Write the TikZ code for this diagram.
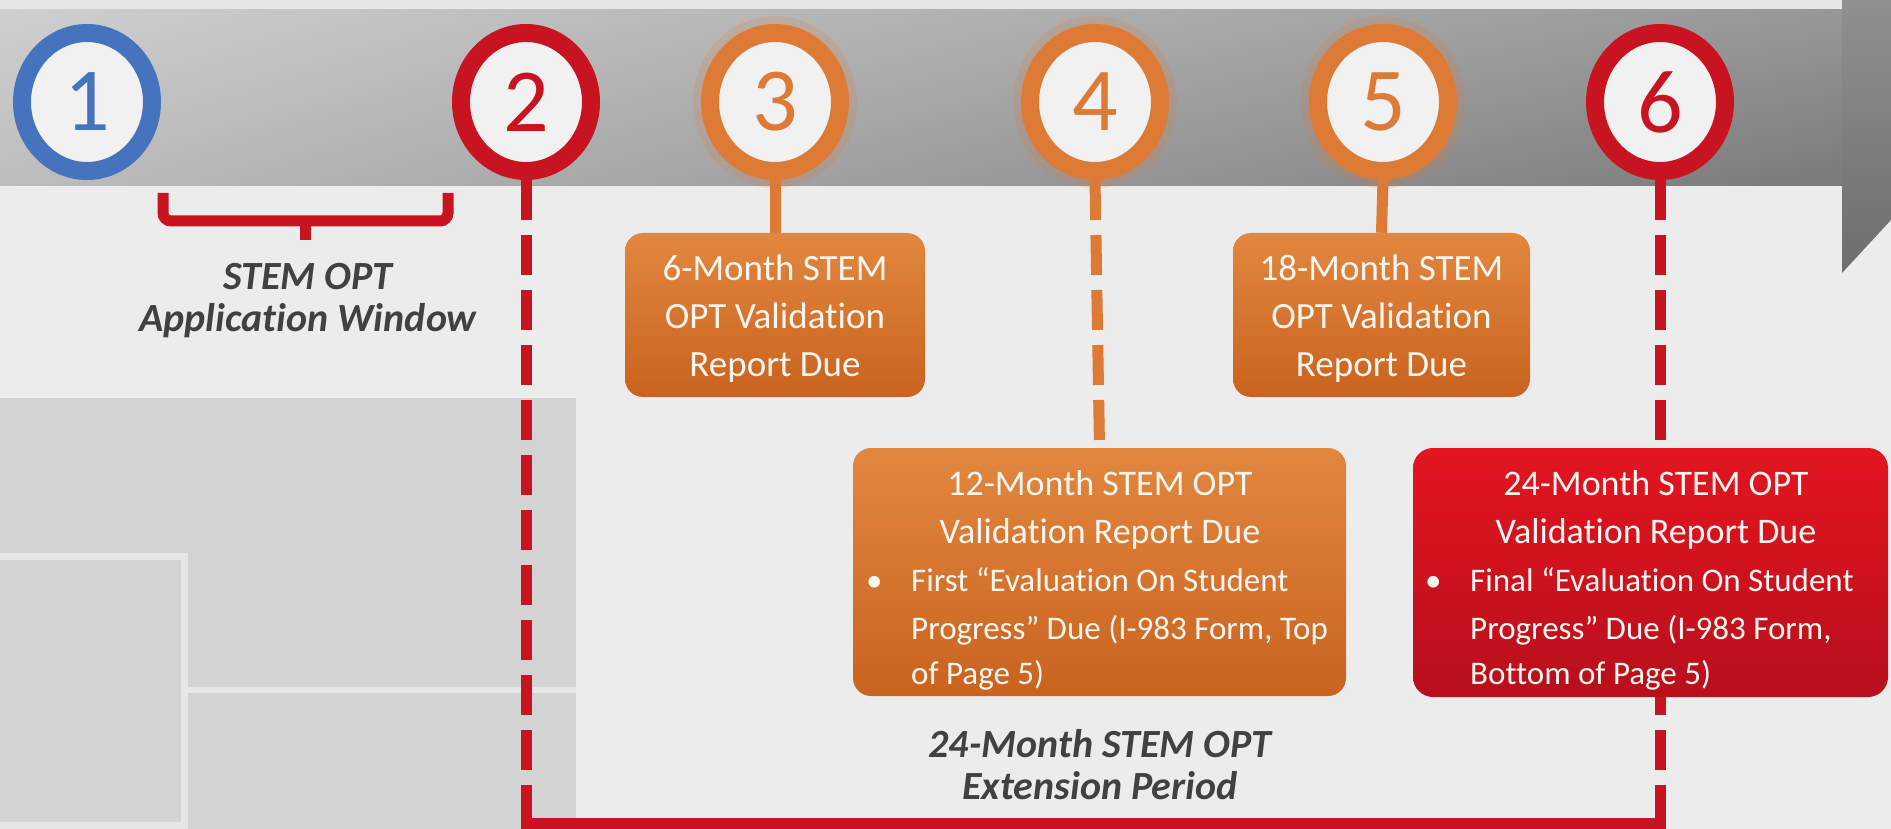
\documentclass[tikz,border=0pt]{standalone}
\usepackage{fontspec}
\setmainfont{Carlito}[Ligatures=CommonOff]
\usetikzlibrary{shapes.geometric,shadings}
\definecolor{cblue}{HTML}{4573BE}
\definecolor{cred}{HTML}{C81420}
\definecolor{corange}{HTML}{DD7A36}
\definecolor{oboxtop}{HTML}{E2873F}
\definecolor{oboxbot}{HTML}{C9631F}
\definecolor{rboxtop}{HTML}{E31520}
\definecolor{rboxbot}{HTML}{B80F1C}
\definecolor{bgc}{HTML}{ECECEC}
\definecolor{topstrip}{HTML}{E6E6E6}
\definecolor{panel}{HTML}{D3D3D3}
\definecolor{panelline}{HTML}{E6E6E6}
\definecolor{labelc}{HTML}{414141}
\definecolor{innerc}{HTML}{F1F1F1}
\definecolor{bandtl}{HTML}{CFCFCF}
\definecolor{bandbl}{HTML}{BDBDBD}
\definecolor{bandtr}{HTML}{979797}
\definecolor{bandbr}{HTML}{7A7A7A}
\definecolor{txtw}{HTML}{FBF6F0}
\pgfdeclarelayer{back}
\pgfdeclarelayer{lines}
\pgfsetlayers{back,lines,main}
\begin{document}
\begin{tikzpicture}[x=1pt,y=-1pt,
  ring/.style={ellipse, draw=#1, text=#1, line width=18pt, fill=innerc,
    minimum width=130, minimum height=138, inner sep=0pt,
    font=\fontsize{90}{90}\selectfont},
  obox/.style={rounded corners=18pt, top color=oboxtop, bottom color=oboxbot,
    inner sep=0pt},
  rbox/.style={rounded corners=20pt, top color=rboxtop, bottom color=rboxbot,
    inner sep=0pt},
  smalltext/.style={anchor=base, text=txtw, inner sep=0pt,
    font=\fontsize{37}{44}\selectfont},
  titletext/.style={anchor=base, text=txtw, inner sep=0pt,
    font=\fontsize{36}{44}\selectfont},
  bullettext/.style={anchor=base west, text=txtw, inner sep=0pt,
    font=\fontsize{33}{40}\selectfont},
  lbl/.style={text=labelc, align=center,
    font=\fontsize{40}{42}\selectfont\bfseries\itshape},
  solidline/.style={line width=11pt},
  dashline/.style={line width=11pt, dash pattern=on 40pt off 15pt},
]
\useasboundingbox (0,0) rectangle (1891,829);
\begin{pgfonlayer}{back}
  \fill[bgc] (0,0) rectangle (1891,829);
  \fill[topstrip] (0,0) rectangle (1891,10);
  \fill[panel] (0,398) rectangle (576,829);
  \draw[panelline, line width=7pt] (0,556.5) -- (184.5,556.5) -- (184.5,825.5) -- (0,825.5);
  \draw[panelline, line width=6pt] (184.5,690) -- (576,690);
  \shade[upper left=bandtl, lower left=bandbl, upper right=bandtr, lower right=bandbr]
    (0,10) rectangle (1842,186);
  \shade[top color=bandtr!95!black, bottom color=bandbr!90!black]
    (1842,0) -- (1891,0) -- (1891,220) -- (1842,273) -- cycle;
\end{pgfonlayer}

% milestones
\node[ring=cblue] (c1) at (87,102) {1};
\node[ring=cred] (c2) at (526,102) {2};
\node[ring=corange] (c3) at (775,102) {3};
\node[ring=corange] (c4) at (1095,102) {4};
\node[ring=corange] (c5) at (1383,102) {5};
\node[ring=cred] (c6) at (1660,102) {6};

% report boxes
\node[obox, minimum width=300, minimum height=164] (r3) at (775,315) {};
\node[obox, minimum width=297, minimum height=164] (r5) at (1381.5,315) {};
\node[obox, minimum width=493, minimum height=248] (r4) at (1099.5,572) {};
\node[rbox, minimum width=475, minimum height=249] (r6) at (1650.5,572.5) {};

% texts of the small boxes
\foreach \t [count=\i] in {6-Month STEM, OPT Validation, Report Due}
  \node[smalltext] (r3l\i) at (775,{280+(\i-1)*48}) {\t};
\foreach \t [count=\i] in {18-Month STEM, OPT Validation, Report Due}
  \node[smalltext] (r5l\i) at (1381.5,{280+(\i-1)*48}) {\t};

% texts of the 12-month box
\node[titletext] (r4t1) at (1100,495) {12-Month STEM OPT};
\node[titletext] (r4t2) at (1100,543) {Validation Report Due};
\node[bullettext] (r4b) at (866,591) {•};
\node[bullettext] (r4l1) at (911,591) {First “Evaluation On Student};
\node[bullettext] (r4l2) at (911,639) {Progress” Due (I-983 Form, Top};
\node[bullettext] (r4l3) at (911,684) {of Page 5)};

% texts of the 24-month box
\node[titletext] (r6t1) at (1656,495) {24-Month STEM OPT};
\node[titletext] (r6t2) at (1656,543) {Validation Report Due};
\node[bullettext] (r6b) at (1425,591) {•};
\node[bullettext] (r6l1) at (1470,591) {Final “Evaluation On Student};
\node[bullettext] (r6l2) at (1470,639) {Progress” Due (I-983 Form,};
\node[bullettext] (r6l3) at (1470,684) {Bottom of Page 5)};

% labels
\node[lbl] (appwin) at (308,301) {STEM OPT\\Application Window};
\node[lbl] (extp) at (1100,765) {24-Month STEM OPT\\Extension Period};

\coordinate (b2) at (526,823);
\coordinate (b6) at (1660,823);
\coordinate (brl) at (163,193);
\coordinate (brr) at (448,193);
\coordinate (brm) at (305.5,221);
\coordinate (brs) at (305.5,240);

\begin{pgfonlayer}{lines}
  % soft edge of orange rings
  \foreach \c in {c3,c4,c5}
    \draw[corange, opacity=0.18, line width=8pt] (\c.center) ellipse [x radius=78pt, y radius=82pt];
  \draw[cred, dashline] (c2.south) -- (b2);
  \draw[cred, dashline] (c6.south) -- (b6);
  \draw[cred, solidline, line cap=rect] (b2) -- (b6);
  \draw[corange, solidline] (c3.south) -- (r3.north);
  \draw[corange, dashline] (c4.south) -- (r4.north);
  \draw[corange, solidline] (c5.south) -- (r5.north);
  % bracket of the application window
  \draw[cred, line width=11pt, rounded corners=8pt] (brl) -- (brl |- brm) -- (brr |- brm) -- (brr);
  \draw[cred, line width=11pt] (brm) -- (brs);
\end{pgfonlayer}
\end{tikzpicture}
\end{document}
